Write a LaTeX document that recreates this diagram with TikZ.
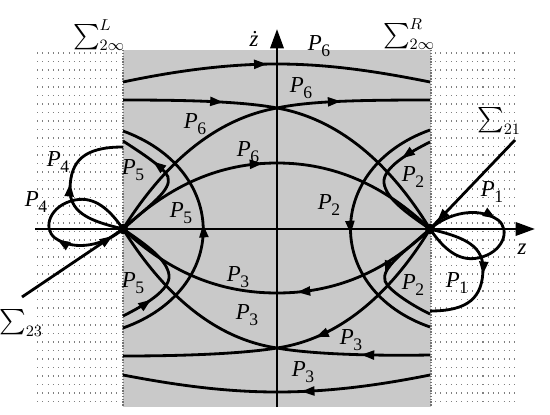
\documentclass[tikz,border=0pt]{standalone}
\usepackage{amsmath}
\usepackage{fontspec}
\setmainfont{Liberation Serif}
\usetikzlibrary{arrows.meta,decorations.markings}
\newcommand{\Pn}[1]{\textit{P}\kern-0.3pt\raisebox{-0.55ex}{\fontsize{10}{10}\selectfont #1}}
\tikzset{
  curve/.style={line width=1.6pt},
  axisline/.style={line width=1.6pt,-{Triangle[length=11pt,width=7.5pt]}},
  arr/.style={postaction={decorate,decoration={markings,mark=at position #1 with {\arrow{Triangle[length=7.5pt,width=5pt]}}}}},
  lbl/.style={font=\fontsize{13}{15}\selectfont,inner sep=0pt},
  sig/.style={font=\fontsize{13.5}{16}\selectfont,inner sep=0pt},
  dotrow/.style={black!50,line width=0.6pt,dash pattern=on 0.6pt off 2.4pt},
}
\begin{document}
\begin{tikzpicture}[x=0.02cm,y=-0.02cm]
\useasboundingbox (0,0) rectangle (550,415);
% shaded region
\fill[black!21] (123,50) rectangle (431,407);
\draw[black!55,line width=0.6pt,dash pattern=on 0.8pt off 0.8pt] (123,50) -- (123,407);
\draw[black!55,line width=0.6pt,dash pattern=on 0.8pt off 0.8pt] (431,50) -- (431,407);
% dotted regions
\foreach \yy in {53,61.5,...,404} {
  \draw[dotrow] (37,\yy) -- (120,\yy);
  \draw[dotrow] (435,\yy) -- (516,\yy);
}
\coordinate (L) at (123,229);
\coordinate (R) at (430,229);
\coordinate (T) at (277,108);
\coordinate (B) at (277,348);
\coordinate (s23) at (22,297);
\coordinate (s21) at (515,140);
% axes
\coordinate (zl) at (35,229);
\coordinate (zr) at (535,229);
\coordinate (vb) at (277,407);
\coordinate (vt) at (277,29);
\draw[axisline] (zl) -- (zr);
\draw[axisline] (vb) -- (vt);
% top/bottom arches
\draw[curve, arr=0.47] (123,82) .. controls (180,70) and (230,64) .. (277,64) .. controls (330,64) and (380,72) .. (430,82);
\draw[curve, arr=0.42] (430,375) .. controls (380,385) and (330,392) .. (277,392) .. controls (225,392) and (175,385) .. (123,375);
% horizontals to T and B
\draw[curve, arr=0.65] (123,100) .. controls (180,100) and (240,101) .. (T);
\draw[curve, arr=0.42] (T) .. controls (310,101) and (360,100) .. (430,100);
\draw[curve, arr=0.45] (430,355) .. controls (370,356) and (310,354) .. (B);
\draw[curve] (B) .. controls (240,354) and (180,356) .. (123,356);
% saddle to T / B
\draw[curve] (L) .. controls (160,170) and (210,120) .. (T);
\draw[curve] (T) .. controls (344,120) and (394,170) .. (R);
\draw[curve, arr=0.8] (R) .. controls (394,288) and (344,338) .. (B);
\draw[curve] (B) .. controls (210,338) and (160,288) .. (L);
% inner arches
\draw[curve, arr=0.46] (L) .. controls (170,185) and (220,163) .. (277,163) .. controls (334,163) and (384,185) .. (R);
\draw[curve, arr=0.44] (R) .. controls (384,273) and (334,293) .. (277,293) .. controls (220,293) and (170,273) .. (L);
% big arcs
\draw[curve, arr=0.52] (123,328) .. controls (230,290) and (230,170) .. (123,131);
\draw[curve, arr=0.52] (430,130) .. controls (324,168) and (324,290) .. (430,327);
% P5 / P2 loops
\draw[curve, arr=0.72] (L) .. controls (150,205) and (172,190) .. (168,177) .. controls (165,168) and (140,152) .. (123,141);
\draw[curve, arr=0.5] (R) .. controls (403,253) and (381,268) .. (385,281) .. controls (388,290) and (413,306) .. (430,314);
\draw[curve, arr=0.25] (430,142) .. controls (410,152) and (382,168) .. (384,183) .. controls (386,198) and (405,212) .. (R);
\draw[curve, arr=0.25] (123,316) .. controls (143,306) and (171,290) .. (169,275) .. controls (167,260) and (148,246) .. (L);
% outer curves in dotted regions
\draw[curve, arr=0.52] (L) .. controls (95,222) and (70,215) .. (70,190) .. controls (70,160) and (85,147) .. (123,147);
\draw[curve, arr=0.52] (R) .. controls (458,236) and (483,243) .. (483,268) .. controls (483,298) and (468,311) .. (430,311);
% P4 and P1 loops
\draw[curve, arr=0.38] (L) .. controls (105,245) and (75,252) .. (55,238) .. controls (42,228) and (50,205) .. (75,200) .. controls (95,196) and (110,210) .. (L);
\draw[curve, arr=0.38] (R) .. controls (448,213) and (478,206) .. (498,220) .. controls (511,230) and (503,253) .. (478,258) .. controls (458,262) and (443,248) .. (R);
% separatrix lines
\draw[curve, arr=0.9] (s23) -- (L);
\draw[curve, arr=0.92] (s21) -- (R);
% saddles
\fill (L) circle[radius=3pt];
\fill (R) circle[radius=3pt];
% labels
\node[lbl] (lzd) at (254,39) {\textit{ż}};
\node[lbl] (lz) at (522,249) {\textit{z}};
\node[sig] (sL) at (99,35) {$\sum\nolimits^{L}_{2\infty}$};
\node[sig] (sR) at (409,34) {$\sum\nolimits^{R}_{2\infty}$};
\node[sig] (s21l) at (499,121) {$\sum\nolimits_{21}$};
\node[sig] (s23l) at (21,323) {$\sum\nolimits_{23}$};
\node[lbl] (p6a) at (319,46) {\Pn{6}};
\node[lbl] (p6b) at (301,88) {\Pn{6}};
\node[lbl] (p6c) at (195,124) {\Pn{6}};
\node[lbl] (p6d) at (248,152) {\Pn{6}};
\node[lbl] (p5a) at (133,170) {\Pn{5}};
\node[lbl] (p5b) at (181,213) {\Pn{5}};
\node[lbl] (p5c) at (133,283) {\Pn{5}};
\node[lbl] (p4a) at (58,162) {\Pn{4}};
\node[lbl] (p4b) at (36,202) {\Pn{4}};
\node[lbl] (p2a) at (413,177) {\Pn{2}};
\node[lbl] (p2b) at (329,205) {\Pn{2}};
\node[lbl] (p2c) at (413,285) {\Pn{2}};
\node[lbl] (p1a) at (492,192) {\Pn{1}};
\node[lbl] (p1b) at (457,283) {\Pn{1}};
\node[lbl] (p3a) at (238,277) {\Pn{3}};
\node[lbl] (p3b) at (247,315) {\Pn{3}};
\node[lbl] (p3c) at (351,340) {\Pn{3}};
\node[lbl] (p3d) at (303,372) {\Pn{3}};
\end{tikzpicture}
\end{document}
